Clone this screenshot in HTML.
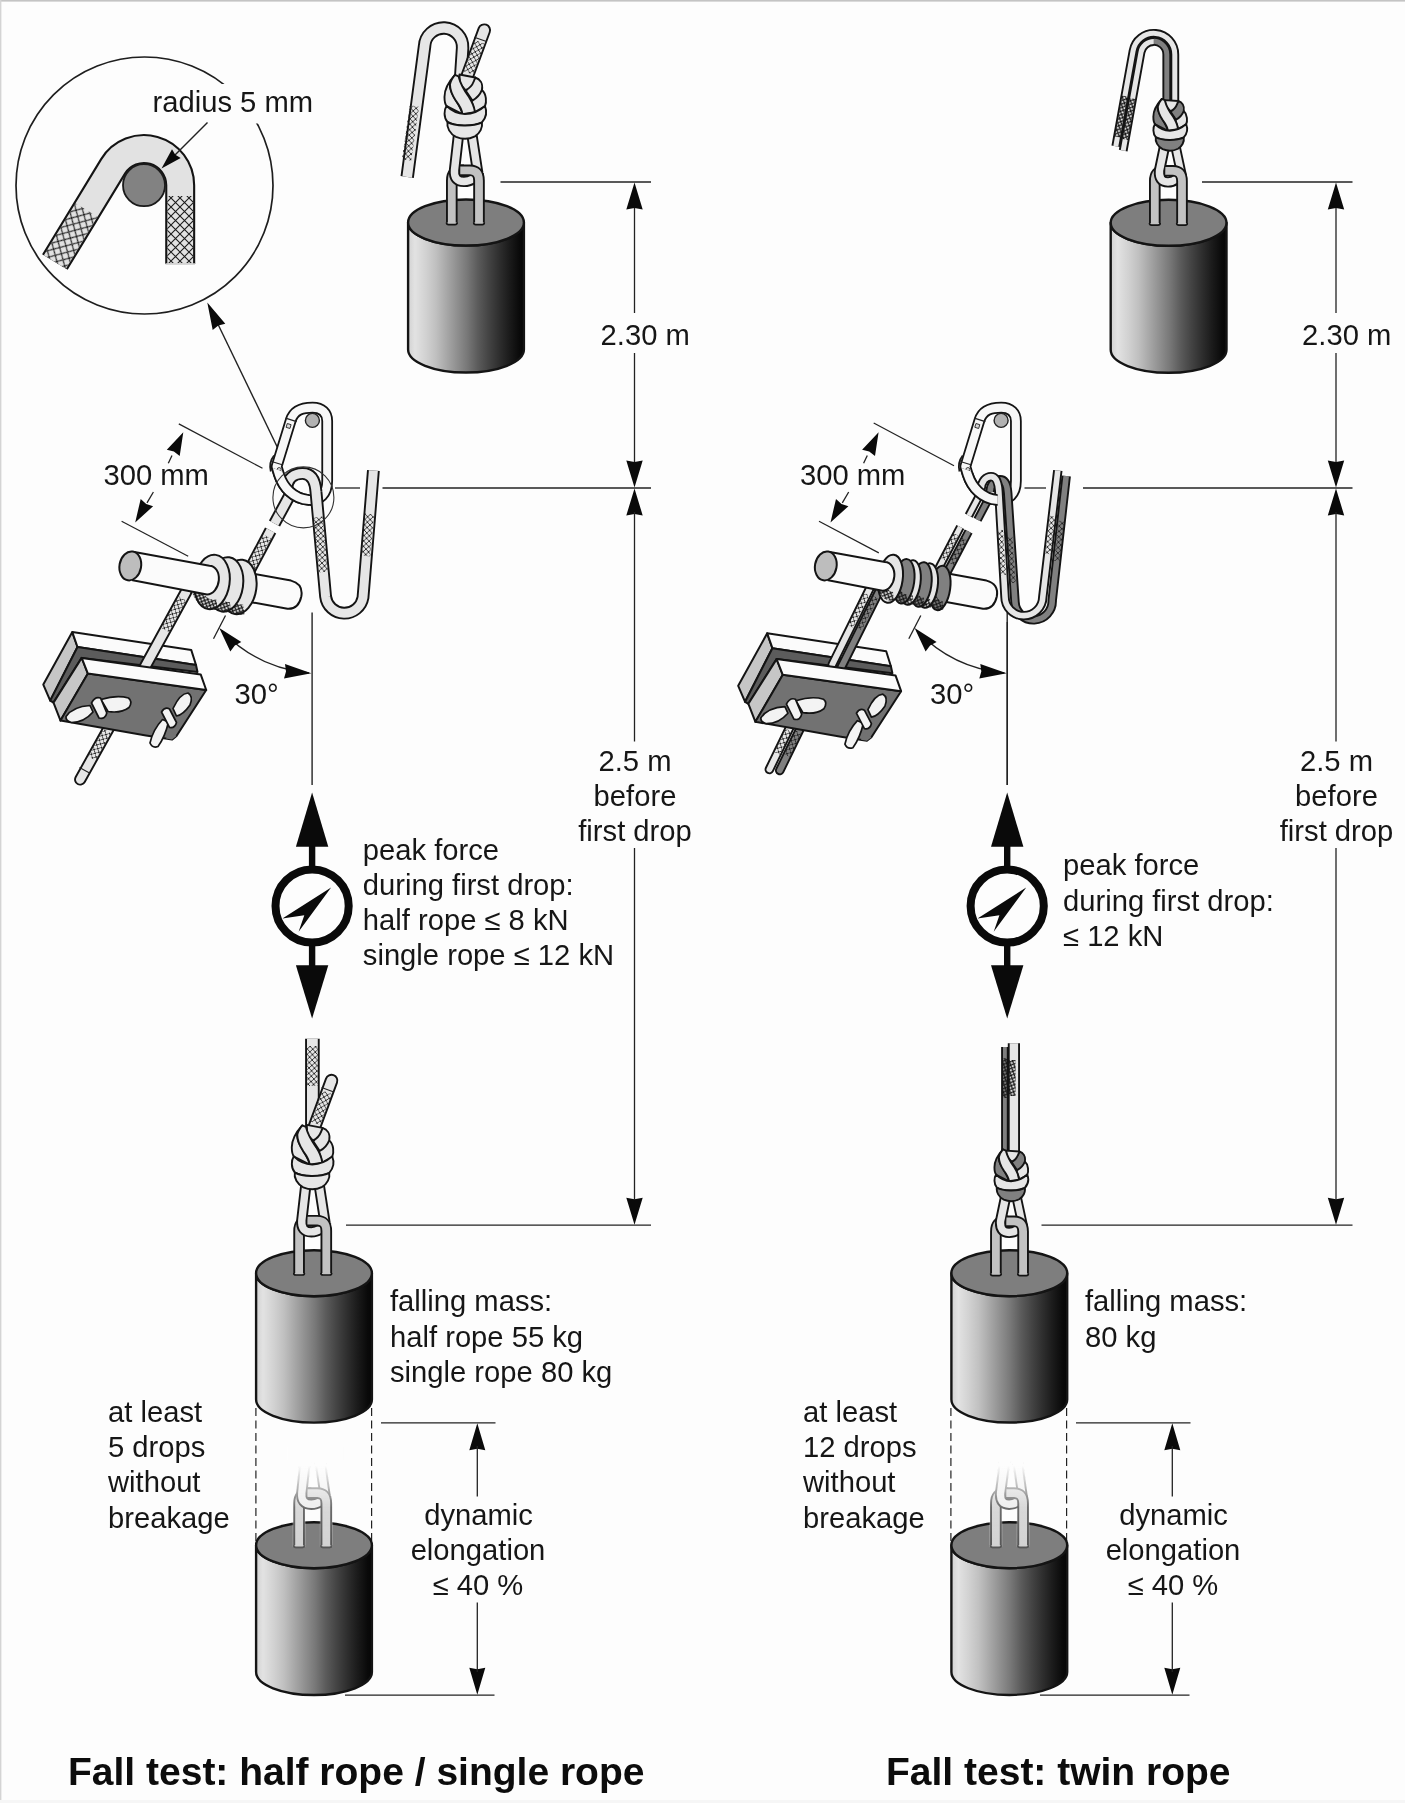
<!DOCTYPE html>
<html lang="en"><head><meta charset="utf-8"><title>Fall test: half rope / single rope, twin rope</title>
<style>html,body{margin:0;padding:0;background:#fdfdfd;overflow:hidden}svg{display:block}</style></head>
<body>
<svg width="1405" height="1803" viewBox="0 0 1405 1803">
<filter id="soft" filterUnits="userSpaceOnUse" x="0" y="0" width="1405" height="1803" color-interpolation-filters="sRGB"><feGaussianBlur stdDeviation="0.45"/></filter>
<g filter="url(#soft)">
<defs>
<linearGradient id="cyl" x1="0" y1="0" x2="1" y2="0">
<stop offset="0" stop-color="#d2d2d2"/><stop offset="0.06" stop-color="#e2e2e2"/><stop offset="0.15" stop-color="#d2d2d2"/>
<stop offset="0.24" stop-color="#c0c0c0"/><stop offset="0.33" stop-color="#a8a8a8"/><stop offset="0.42" stop-color="#909090"/>
<stop offset="0.51" stop-color="#787878"/><stop offset="0.60" stop-color="#5c5c5c"/><stop offset="0.69" stop-color="#454545"/>
<stop offset="0.78" stop-color="#303030"/><stop offset="0.87" stop-color="#1c1c1c"/><stop offset="0.96" stop-color="#0a0a0a"/><stop offset="1" stop-color="#060606"/>
</linearGradient>
<linearGradient id="fadeUp" x1="0" y1="1" x2="0" y2="0" gradientUnits="objectBoundingBox">
<stop offset="0" stop-color="#fdfdfd" stop-opacity="0"/><stop offset="0.35" stop-color="#fdfdfd" stop-opacity="0.3"/><stop offset="0.7" stop-color="#fdfdfd" stop-opacity="0.72"/><stop offset="1" stop-color="#fdfdfd" stop-opacity="1"/>
</linearGradient>
<pattern id="hx" width="5.4" height="5.4" patternUnits="userSpaceOnUse" patternTransform="rotate(15)">
<path d="M0,0 L5.4,5.4 M5.4,0 L0,5.4" stroke="#1c1c1c" stroke-width="0.85" fill="none"/></pattern>
<pattern id="hx30" width="5.4" height="5.4" patternUnits="userSpaceOnUse" patternTransform="rotate(30)">
<path d="M0,0 L5.4,5.4 M5.4,0 L0,5.4" stroke="#1c1c1c" stroke-width="0.85" fill="none"/></pattern>
<pattern id="hx0" width="5.4" height="5.4" patternUnits="userSpaceOnUse" patternTransform="rotate(3)">
<path d="M0,0 L5.4,5.4 M5.4,0 L0,5.4" stroke="#1c1c1c" stroke-width="0.85" fill="none"/></pattern>
<pattern id="hxd" width="4.6" height="4.6" patternUnits="userSpaceOnUse" patternTransform="rotate(25)">
<path d="M0,0 L4.6,4.6 M4.6,0 L0,4.6" stroke="#161616" stroke-width="1.15" fill="none"/></pattern>
<pattern id="hxbig" width="9" height="9" patternUnits="userSpaceOnUse" patternTransform="rotate(30)">
<path d="M0,0 L9,9 M9,0 L0,9" stroke="#1c1c1c" stroke-width="1.1" fill="none"/></pattern>
<pattern id="hxbig0" width="9" height="9" patternUnits="userSpaceOnUse" patternTransform="rotate(0)">
<path d="M0,0 L9,9 M9,0 L0,9" stroke="#1c1c1c" stroke-width="1.1" fill="none"/></pattern>
</defs>
<rect x="0" y="0" width="1405" height="1803" fill="#fdfdfd"/>
<rect x="0" y="0" width="1405" height="1.6" fill="#c4c4c4"/>
<rect x="0" y="0" width="1.4" height="1803" fill="#d4d4d4"/>
<rect x="0" y="1800" width="1405" height="3" fill="#f6f6f6"/>
<line x1="500.5" y1="182" x2="651" y2="182" stroke="#222" stroke-width="1.3" />
<line x1="335" y1="488" x2="360" y2="488" stroke="#222" stroke-width="1.3" />
<line x1="382.5" y1="488" x2="651" y2="488" stroke="#222" stroke-width="1.3" />
<line x1="346" y1="1225.2" x2="651" y2="1225.2" stroke="#222" stroke-width="1.3" />
<line x1="634.5" y1="206" x2="634.5" y2="313" stroke="#222" stroke-width="1.3" />
<line x1="634.5" y1="353" x2="634.5" y2="464" stroke="#222" stroke-width="1.3" />
<polygon points="634.5,182.5 642.7,209.5 634.5,208.0 626.3,209.5" fill="#0a0a0a"/>
<polygon points="634.5,487.5 626.3,460.5 634.5,462.0 642.7,460.5" fill="#0a0a0a"/>
<text x="600.6" y="344.6" font-size="29.2" text-anchor="start" font-weight="normal" fill="#161616" font-family="'Liberation Sans', sans-serif">2.30 m</text>
<polygon points="634.5,488.5 642.7,515.5 634.5,514.0 626.3,515.5" fill="#0a0a0a"/>
<polygon points="634.5,1224.8 626.3,1197.8 634.5,1199.3 642.7,1197.8" fill="#0a0a0a"/>
<line x1="634.5" y1="512" x2="634.5" y2="741.5" stroke="#222" stroke-width="1.3" />
<line x1="634.5" y1="848" x2="634.5" y2="1200" stroke="#222" stroke-width="1.3" />
<text x="635.0" y="771" font-size="29.2" text-anchor="middle" font-weight="normal" fill="#161616" font-family="'Liberation Sans', sans-serif">2.5 m</text>
<text x="635.0" y="806.3" font-size="29.2" text-anchor="middle" font-weight="normal" fill="#161616" font-family="'Liberation Sans', sans-serif">before</text>
<text x="635.0" y="841.3" font-size="29.2" text-anchor="middle" font-weight="normal" fill="#161616" font-family="'Liberation Sans', sans-serif">first drop</text>
<line x1="381" y1="1422.8" x2="495.5" y2="1422.8" stroke="#222" stroke-width="1.3" />
<line x1="345" y1="1695.2" x2="494.5" y2="1695.2" stroke="#222" stroke-width="1.3" />
<polygon points="477.3,1423.2 485.3,1450.2 477.3,1448.7 469.3,1450.2" fill="#0a0a0a"/>
<polygon points="477.3,1694.8 469.3,1667.8 477.3,1669.3 485.3,1667.8" fill="#0a0a0a"/>
<line x1="477.3" y1="1446" x2="477.3" y2="1496.5" stroke="#222" stroke-width="1.3" />
<line x1="477.3" y1="1602.5" x2="477.3" y2="1672" stroke="#222" stroke-width="1.3" />
<text x="478.5" y="1524.5" font-size="29.2" text-anchor="middle" font-weight="normal" fill="#161616" font-family="'Liberation Sans', sans-serif">dynamic</text>
<text x="478" y="1559.8" font-size="29.2" text-anchor="middle" font-weight="normal" fill="#161616" font-family="'Liberation Sans', sans-serif">elongation</text>
<text x="478" y="1594.8" font-size="29.2" text-anchor="middle" font-weight="normal" fill="#161616" font-family="'Liberation Sans', sans-serif">≤ 40 %</text>
<line x1="255.9" y1="1408" x2="255.9" y2="1541" stroke="#222" stroke-width="1.2" stroke-dasharray="8 4.5"/>
<line x1="371.6" y1="1408" x2="371.6" y2="1541" stroke="#222" stroke-width="1.2" stroke-dasharray="8 4.5"/>
<line x1="1202.0" y1="182" x2="1352.5" y2="182" stroke="#222" stroke-width="1.3" />
<line x1="1024.5" y1="488" x2="1046" y2="488" stroke="#222" stroke-width="1.3" />
<line x1="1083" y1="488" x2="1352.5" y2="488" stroke="#222" stroke-width="1.3" />
<line x1="1041.5" y1="1225.2" x2="1352.5" y2="1225.2" stroke="#222" stroke-width="1.3" />
<line x1="1336.0" y1="206" x2="1336.0" y2="313" stroke="#222" stroke-width="1.3" />
<line x1="1336.0" y1="353" x2="1336.0" y2="464" stroke="#222" stroke-width="1.3" />
<polygon points="1336.0,182.5 1344.2,209.5 1336.0,208.0 1327.8,209.5" fill="#0a0a0a"/>
<polygon points="1336.0,487.5 1327.8,460.5 1336.0,462.0 1344.2,460.5" fill="#0a0a0a"/>
<text x="1302.1" y="344.6" font-size="29.2" text-anchor="start" font-weight="normal" fill="#161616" font-family="'Liberation Sans', sans-serif">2.30 m</text>
<polygon points="1336.0,488.5 1344.2,515.5 1336.0,514.0 1327.8,515.5" fill="#0a0a0a"/>
<polygon points="1336.0,1224.8 1327.8,1197.8 1336.0,1199.3 1344.2,1197.8" fill="#0a0a0a"/>
<line x1="1336.0" y1="512" x2="1336.0" y2="741.5" stroke="#222" stroke-width="1.3" />
<line x1="1336.0" y1="848" x2="1336.0" y2="1200" stroke="#222" stroke-width="1.3" />
<text x="1336.5" y="771" font-size="29.2" text-anchor="middle" font-weight="normal" fill="#161616" font-family="'Liberation Sans', sans-serif">2.5 m</text>
<text x="1336.5" y="806.3" font-size="29.2" text-anchor="middle" font-weight="normal" fill="#161616" font-family="'Liberation Sans', sans-serif">before</text>
<text x="1336.5" y="841.3" font-size="29.2" text-anchor="middle" font-weight="normal" fill="#161616" font-family="'Liberation Sans', sans-serif">first drop</text>
<line x1="1076" y1="1422.8" x2="1190.5" y2="1422.8" stroke="#222" stroke-width="1.3" />
<line x1="1040" y1="1695.2" x2="1189.5" y2="1695.2" stroke="#222" stroke-width="1.3" />
<polygon points="1172.3,1423.2 1180.3,1450.2 1172.3,1448.7 1164.3,1450.2" fill="#0a0a0a"/>
<polygon points="1172.3,1694.8 1164.3,1667.8 1172.3,1669.3 1180.3,1667.8" fill="#0a0a0a"/>
<line x1="1172.3" y1="1446" x2="1172.3" y2="1496.5" stroke="#222" stroke-width="1.3" />
<line x1="1172.3" y1="1602.5" x2="1172.3" y2="1672" stroke="#222" stroke-width="1.3" />
<text x="1173.5" y="1524.5" font-size="29.2" text-anchor="middle" font-weight="normal" fill="#161616" font-family="'Liberation Sans', sans-serif">dynamic</text>
<text x="1173" y="1559.8" font-size="29.2" text-anchor="middle" font-weight="normal" fill="#161616" font-family="'Liberation Sans', sans-serif">elongation</text>
<text x="1173" y="1594.8" font-size="29.2" text-anchor="middle" font-weight="normal" fill="#161616" font-family="'Liberation Sans', sans-serif">≤ 40 %</text>
<line x1="950.9" y1="1408" x2="950.9" y2="1541" stroke="#222" stroke-width="1.2" stroke-dasharray="8 4.5"/>
<line x1="1066.6" y1="1408" x2="1066.6" y2="1541" stroke="#222" stroke-width="1.2" stroke-dasharray="8 4.5"/>
<text x="362.8" y="860" font-size="29.2" text-anchor="start" font-weight="normal" fill="#161616" font-family="'Liberation Sans', sans-serif">peak force</text>
<text x="362.8" y="895.2" font-size="29.2" text-anchor="start" font-weight="normal" fill="#161616" font-family="'Liberation Sans', sans-serif">during first drop:</text>
<text x="362.8" y="930.3" font-size="29.2" text-anchor="start" font-weight="normal" fill="#161616" font-family="'Liberation Sans', sans-serif">half rope ≤ 8 kN</text>
<text x="362.8" y="965.4" font-size="29.2" text-anchor="start" font-weight="normal" fill="#161616" font-family="'Liberation Sans', sans-serif">single rope ≤ 12 kN</text>
<text x="390" y="1311.2" font-size="29.2" text-anchor="start" font-weight="normal" fill="#161616" font-family="'Liberation Sans', sans-serif">falling mass:</text>
<text x="390" y="1346.5" font-size="29.2" text-anchor="start" font-weight="normal" fill="#161616" font-family="'Liberation Sans', sans-serif">half rope 55 kg</text>
<text x="390" y="1381.7" font-size="29.2" text-anchor="start" font-weight="normal" fill="#161616" font-family="'Liberation Sans', sans-serif">single rope 80 kg</text>
<text x="108" y="1422" font-size="29.2" text-anchor="start" font-weight="normal" fill="#161616" font-family="'Liberation Sans', sans-serif">at least</text>
<text x="108" y="1457.2" font-size="29.2" text-anchor="start" font-weight="normal" fill="#161616" font-family="'Liberation Sans', sans-serif">5 drops</text>
<text x="108" y="1492.4" font-size="29.2" text-anchor="start" font-weight="normal" fill="#161616" font-family="'Liberation Sans', sans-serif">without</text>
<text x="108" y="1527.6" font-size="29.2" text-anchor="start" font-weight="normal" fill="#161616" font-family="'Liberation Sans', sans-serif">breakage</text>
<text x="68" y="1785.3" font-size="39" text-anchor="start" font-weight="bold" fill="#0c0c0c" font-family="'Liberation Sans', sans-serif">Fall test: half rope / single rope</text>
<text x="103.5" y="484.6" font-size="29.2" text-anchor="start" font-weight="normal" fill="#161616" font-family="'Liberation Sans', sans-serif">300 mm</text>
<text x="234.5" y="704" font-size="29.2" text-anchor="start" font-weight="normal" fill="#161616" font-family="'Liberation Sans', sans-serif">30°</text>
<text x="1063" y="875" font-size="29.2" text-anchor="start" font-weight="normal" fill="#161616" font-family="'Liberation Sans', sans-serif">peak force</text>
<text x="1063" y="910.5" font-size="29.2" text-anchor="start" font-weight="normal" fill="#161616" font-family="'Liberation Sans', sans-serif">during first drop:</text>
<text x="1063" y="946" font-size="29.2" text-anchor="start" font-weight="normal" fill="#161616" font-family="'Liberation Sans', sans-serif">≤ 12 kN</text>
<text x="1085" y="1311.2" font-size="29.2" text-anchor="start" font-weight="normal" fill="#161616" font-family="'Liberation Sans', sans-serif">falling mass:</text>
<text x="1085" y="1346.5" font-size="29.2" text-anchor="start" font-weight="normal" fill="#161616" font-family="'Liberation Sans', sans-serif">80 kg</text>
<text x="803" y="1422" font-size="29.2" text-anchor="start" font-weight="normal" fill="#161616" font-family="'Liberation Sans', sans-serif">at least</text>
<text x="803" y="1457.2" font-size="29.2" text-anchor="start" font-weight="normal" fill="#161616" font-family="'Liberation Sans', sans-serif">12 drops</text>
<text x="803" y="1492.4" font-size="29.2" text-anchor="start" font-weight="normal" fill="#161616" font-family="'Liberation Sans', sans-serif">without</text>
<text x="803" y="1527.6" font-size="29.2" text-anchor="start" font-weight="normal" fill="#161616" font-family="'Liberation Sans', sans-serif">breakage</text>
<text x="886" y="1785.3" font-size="39" text-anchor="start" font-weight="bold" fill="#0c0c0c" font-family="'Liberation Sans', sans-serif">Fall test: twin rope</text>
<text x="800" y="484.6" font-size="29.2" text-anchor="start" font-weight="normal" fill="#161616" font-family="'Liberation Sans', sans-serif">300 mm</text>
<text x="930" y="704" font-size="29.2" text-anchor="start" font-weight="normal" fill="#161616" font-family="'Liberation Sans', sans-serif">30°</text>
<g transform="translate(408.1,0)"><path transform="translate(-408.1,0)" d="M408.1,222.5 L408.1,349.5 A57.9,23.0 0 0 0 523.9,349.5 L523.9,222.5 A57.9,23.0 0 0 1 408.1,222.5 Z" fill="url(#cyl)" stroke="#141414" stroke-width="2.4" stroke-linejoin="round"/></g>
<ellipse cx="466" cy="222.5" rx="57.9" ry="23.0" fill="#7e7e7e" stroke="#141414" stroke-width="2.4"/>
<g transform="translate(256.1,0)"><path transform="translate(-256.1,0)" d="M256.1,1273.2 L256.1,1399.6 A57.9,23.0 0 0 0 371.9,1399.6 L371.9,1273.2 A57.9,23.0 0 0 1 256.1,1273.2 Z" fill="url(#cyl)" stroke="#141414" stroke-width="2.4" stroke-linejoin="round"/></g>
<ellipse cx="314" cy="1273.2" rx="57.9" ry="23.0" fill="#7e7e7e" stroke="#141414" stroke-width="2.4"/>
<g transform="translate(256.1,0)"><path transform="translate(-256.1,0)" d="M256.1,1545.2 L256.1,1672 A57.9,23.0 0 0 0 371.9,1672 L371.9,1545.2 A57.9,23.0 0 0 1 256.1,1545.2 Z" fill="url(#cyl)" stroke="#141414" stroke-width="2.4" stroke-linejoin="round"/></g>
<ellipse cx="314" cy="1545.2" rx="57.9" ry="23.0" fill="#7e7e7e" stroke="#141414" stroke-width="2.4"/>
<g transform="translate(1110.6999999999998,0)"><path transform="translate(-1110.6999999999998,0)" d="M1110.6999999999998,222.8 L1110.6999999999998,349.8 A57.9,23.0 0 0 0 1226.5,349.8 L1226.5,222.8 A57.9,23.0 0 0 1 1110.6999999999998,222.8 Z" fill="url(#cyl)" stroke="#141414" stroke-width="2.4" stroke-linejoin="round"/></g>
<ellipse cx="1168.6" cy="222.8" rx="57.9" ry="23.0" fill="#7e7e7e" stroke="#141414" stroke-width="2.4"/>
<g transform="translate(951.4,0)"><path transform="translate(-951.4,0)" d="M951.4,1273.2 L951.4,1399.6 A57.9,23.0 0 0 0 1067.2,1399.6 L1067.2,1273.2 A57.9,23.0 0 0 1 951.4,1273.2 Z" fill="url(#cyl)" stroke="#141414" stroke-width="2.4" stroke-linejoin="round"/></g>
<ellipse cx="1009.3" cy="1273.2" rx="57.9" ry="23.0" fill="#7e7e7e" stroke="#141414" stroke-width="2.4"/>
<g transform="translate(951.4,0)"><path transform="translate(-951.4,0)" d="M951.4,1545.2 L951.4,1672 A57.9,23.0 0 0 0 1067.2,1672 L1067.2,1545.2 A57.9,23.0 0 0 1 951.4,1545.2 Z" fill="url(#cyl)" stroke="#141414" stroke-width="2.4" stroke-linejoin="round"/></g>
<ellipse cx="1009.3" cy="1545.2" rx="57.9" ry="23.0" fill="#7e7e7e" stroke="#141414" stroke-width="2.4"/>
<circle cx="144.5" cy="185.5" r="128.5" fill="none" stroke="#1e1e1e" stroke-width="1.7"/>
<rect x="149" y="84" width="167" height="39.5" fill="#fdfdfd"/>
<path d="M54.9,262 L113.1,166.4 A36.2,36.2 0 0 1 180.2,185.2 L180.2,264" fill="none" stroke="#141414" stroke-width="30" stroke-linecap="butt" stroke-linejoin="round" />
<path d="M54.9,262 L113.1,166.4 A36.2,36.2 0 0 1 180.2,185.2 L180.2,264" fill="none" stroke="#e2e2e2" stroke-width="25.80" stroke-linecap="butt" stroke-linejoin="round" />
<path d="M54.9,262 L86.5,210" fill="none" stroke="url(#hxbig)" stroke-width="25.8" stroke-linecap="butt"/>
<path d="M180.2,263 L180.2,196" fill="none" stroke="url(#hxbig0)" stroke-width="25.8" stroke-linecap="butt"/>
<path d="M165.5,264 H195" stroke="#cfcfcf" stroke-width="1.6"/>
<circle cx="144" cy="185.2" r="21" fill="#828282" stroke="#1a1a1a" stroke-width="1.8"/>
<line x1="207.5" y1="122.5" x2="172" y2="158" stroke="#222" stroke-width="1.4" />
<polygon points="161.5,168.5 172.0,149.3 175.3,154.7 180.7,158.0" fill="#0a0a0a"/>
<text x="152.5" y="111.7" font-size="29.2" text-anchor="start" font-weight="normal" fill="#161616" font-family="'Liberation Sans', sans-serif">radius 5 mm</text>
<line x1="283.5" y1="460" x2="214" y2="316" stroke="#222" stroke-width="1.4" />
<polygon points="207.3,302.5 225.3,323.8 218.3,325.5 212.7,329.9" fill="#0a0a0a"/>
<line x1="312.1" y1="612.5" x2="312.1" y2="785" stroke="#222" stroke-width="1.4" />
<circle cx="312.1" cy="906" r="36.6" fill="#fdfdfd" stroke="#0a0a0a" stroke-width="8"/>
<rect x="308.90000000000003" y="845" width="6.4" height="21.5" fill="#0a0a0a"/>
<rect x="308.90000000000003" y="945.5" width="6.4" height="21" fill="#0a0a0a"/>
<polygon points="312.1,792.5 328.3,846.8 295.90000000000003,846.8" fill="#0a0a0a"/>
<polygon points="312.1,1018.6 328.3,965.2 295.90000000000003,965.2" fill="#0a0a0a"/>
<polygon points="331.1,887.5 282.40000000000003,918.4 304.3,915.3 298.6,931.8" fill="#0a0a0a"/>
<path d="M407.2,177 L424.6,46 A19,19 0 0 1 462.6,48 L460.5,80" fill="none" stroke="#141414" stroke-width="13.4" stroke-linecap="butt" stroke-linejoin="round" />
<path d="M407.2,177 L424.6,46 A19,19 0 0 1 462.6,48 L460.5,80" fill="none" stroke="#e6e6e6" stroke-width="9.60" stroke-linecap="butt" stroke-linejoin="round" />
<path d="M414.4,106 L406.6,160" fill="none" stroke="url(#hx0)" stroke-width="9.4" stroke-linecap="butt"/>
<g transform="translate(0,0)">
<path d="M471.8,134 L477.8,173" fill="none" stroke="#141414" stroke-width="11.2" stroke-linecap="butt" stroke-linejoin="round" />
<path d="M471.8,134 L477.8,173" fill="none" stroke="#e6e6e6" stroke-width="7.40" stroke-linecap="butt" stroke-linejoin="round" />
<path d="M451.8,224.0 V180.5 Q451.8,170.3 460.8,170.3 H464" fill="none" stroke="#141414" stroke-width="11.6" stroke-linecap="butt" stroke-linejoin="round" />
<path d="M451.8,224.0 V180.5 Q451.8,170.3 460.8,170.3 H464" fill="none" stroke="#c2c2c2" stroke-width="7.80" stroke-linecap="butt" stroke-linejoin="round" />
<path d="M458.6,134 L454.5,170 Q453.5,181.5 464,181.5 Q474,181.5 479,171" fill="none" stroke="#141414" stroke-width="11.2" stroke-linecap="butt" stroke-linejoin="round" />
<path d="M458.6,134 L454.5,170 Q453.5,181.5 464,181.5 Q474,181.5 479,171" fill="none" stroke="#e6e6e6" stroke-width="7.40" stroke-linecap="butt" stroke-linejoin="round" />
<path d="M460.4,170.3 H470.0 Q479.0,170.3 479.0,180.5 V224.0" fill="none" stroke="#141414" stroke-width="11.6" stroke-linecap="butt" stroke-linejoin="round" />
<path d="M460.4,170.3 H470.0 Q479.0,170.3 479.0,180.5 V224.0" fill="none" stroke="#c2c2c2" stroke-width="7.80" stroke-linecap="butt" stroke-linejoin="round" />
<path d="M446.5,222.5 Q446.5,224.6 448.6,224.6 H455.0 Q457.1,224.6 457.1,222.5" fill="#c2c2c2" stroke="#141414" stroke-width="1.7"/>
<path d="M473.7,222.5 Q473.7,224.6 475.8,224.6 H482.2 Q484.3,224.6 484.3,222.5" fill="#c2c2c2" stroke="#141414" stroke-width="1.7"/>
</g>
<g transform="translate(0,0)">
<path d="M463.6,86 L484.2,30.2" fill="none" stroke="#141414" stroke-width="13.6" stroke-linecap="round" stroke-linejoin="round" />
<path d="M463.6,86 L484.2,30.2" fill="none" stroke="#e6e6e6" stroke-width="9.80" stroke-linecap="round" stroke-linejoin="round" />
<path d="M468.4,73 L479.9,42" fill="none" stroke="url(#hx)" stroke-width="9.8" stroke-linecap="butt"/>
<path d="M474.3,37.2 L486.5,41.6" stroke="#222" stroke-width="1.1" fill="none"/>
</g>
<g transform="translate(430,60) scale(0.04993)" stroke="#141414" stroke-width="38.1" stroke-linejoin="round">
<path d="M1040,600 C1135,680 1135,850 1100,930 L900,1045 L830,810 Z" fill="#e6e6e6"/>
<path d="M905,350 C1000,380 1065,470 1040,600 C1000,700 930,770 850,812 L720,620 L880,400 Z" fill="#e6e6e6"/>
<path d="M590,290 L905,350 L880,420 C850,500 790,570 712,602 L600,480 Z" fill="#e6e6e6"/>
<path d="M500,300 C390,420 290,560 290,740 C290,840 300,890 335,925 L650,1085 C640,1000 560,880 480,740 C420,640 390,560 400,490 Z" fill="#e6e6e6"/>
<path d="M500,300 C450,360 410,430 400,490 C400,600 440,700 520,820 C580,900 640,1000 650,1085 L900,1045 C890,950 850,850 780,740 C700,630 620,520 572,330 Z" fill="#e6e6e6"/>
<path d="M330,920 C280,1000 270,1150 350,1240 C500,1330 850,1340 1040,1250 C1130,1150 1140,1020 1100,920 C1000,1010 850,1080 700,1085 C560,1080 420,1010 330,920 Z" fill="#e6e6e6"/>
<path d="M350,1245 C330,1350 400,1480 520,1540 C640,1590 780,1590 900,1530 C1000,1470 1060,1350 1040,1255 C850,1340 500,1330 350,1245 Z" fill="#e6e6e6"/>
</g>
<path d="M312.4,1038.7 L312.4,1134" fill="none" stroke="#141414" stroke-width="14.6" stroke-linecap="butt" stroke-linejoin="round" />
<path d="M312.4,1038.7 L312.4,1134" fill="none" stroke="#e6e6e6" stroke-width="10.80" stroke-linecap="butt" stroke-linejoin="round" />
<path d="M312.4,1046 L312.4,1086" fill="none" stroke="url(#hx0)" stroke-width="10.6" stroke-linecap="butt"/>
<g transform="translate(-152.7,1050.4)">
<path d="M471.8,134 L477.8,173" fill="none" stroke="#141414" stroke-width="11.2" stroke-linecap="butt" stroke-linejoin="round" />
<path d="M471.8,134 L477.8,173" fill="none" stroke="#e6e6e6" stroke-width="7.40" stroke-linecap="butt" stroke-linejoin="round" />
<path d="M451.8,224.0 V180.5 Q451.8,170.3 460.8,170.3 H464" fill="none" stroke="#141414" stroke-width="11.6" stroke-linecap="butt" stroke-linejoin="round" />
<path d="M451.8,224.0 V180.5 Q451.8,170.3 460.8,170.3 H464" fill="none" stroke="#c2c2c2" stroke-width="7.80" stroke-linecap="butt" stroke-linejoin="round" />
<path d="M458.6,134 L454.5,170 Q453.5,181.5 464,181.5 Q474,181.5 479,171" fill="none" stroke="#141414" stroke-width="11.2" stroke-linecap="butt" stroke-linejoin="round" />
<path d="M458.6,134 L454.5,170 Q453.5,181.5 464,181.5 Q474,181.5 479,171" fill="none" stroke="#e6e6e6" stroke-width="7.40" stroke-linecap="butt" stroke-linejoin="round" />
<path d="M460.4,170.3 H470.0 Q479.0,170.3 479.0,180.5 V224.0" fill="none" stroke="#141414" stroke-width="11.6" stroke-linecap="butt" stroke-linejoin="round" />
<path d="M460.4,170.3 H470.0 Q479.0,170.3 479.0,180.5 V224.0" fill="none" stroke="#c2c2c2" stroke-width="7.80" stroke-linecap="butt" stroke-linejoin="round" />
<path d="M446.5,222.5 Q446.5,224.6 448.6,224.6 H455.0 Q457.1,224.6 457.1,222.5" fill="#c2c2c2" stroke="#141414" stroke-width="1.7"/>
<path d="M473.7,222.5 Q473.7,224.6 475.8,224.6 H482.2 Q484.3,224.6 484.3,222.5" fill="#c2c2c2" stroke="#141414" stroke-width="1.7"/>
</g>
<g transform="translate(-152.7,1050.4)">
<path d="M463.6,86 L484.2,30.2" fill="none" stroke="#141414" stroke-width="13.6" stroke-linecap="round" stroke-linejoin="round" />
<path d="M463.6,86 L484.2,30.2" fill="none" stroke="#e6e6e6" stroke-width="9.80" stroke-linecap="round" stroke-linejoin="round" />
<path d="M468.4,73 L479.9,42" fill="none" stroke="url(#hx)" stroke-width="9.8" stroke-linecap="butt"/>
<path d="M474.3,37.2 L486.5,41.6" stroke="#222" stroke-width="1.1" fill="none"/>
</g>
<g transform="translate(277.3,1110.4) scale(0.04993)" stroke="#141414" stroke-width="38.1" stroke-linejoin="round">
<path d="M1040,600 C1135,680 1135,850 1100,930 L900,1045 L830,810 Z" fill="#e6e6e6"/>
<path d="M905,350 C1000,380 1065,470 1040,600 C1000,700 930,770 850,812 L720,620 L880,400 Z" fill="#e6e6e6"/>
<path d="M590,290 L905,350 L880,420 C850,500 790,570 712,602 L600,480 Z" fill="#e6e6e6"/>
<path d="M500,300 C390,420 290,560 290,740 C290,840 300,890 335,925 L650,1085 C640,1000 560,880 480,740 C420,640 390,560 400,490 Z" fill="#e6e6e6"/>
<path d="M500,300 C450,360 410,430 400,490 C400,600 440,700 520,820 C580,900 640,1000 650,1085 L900,1045 C890,950 850,850 780,740 C700,630 620,520 572,330 Z" fill="#e6e6e6"/>
<path d="M330,920 C280,1000 270,1150 350,1240 C500,1330 850,1340 1040,1250 C1130,1150 1140,1020 1100,920 C1000,1010 850,1080 700,1085 C560,1080 420,1010 330,920 Z" fill="#e6e6e6"/>
<path d="M350,1245 C330,1350 400,1480 520,1540 C640,1590 780,1590 900,1530 C1000,1470 1060,1350 1040,1255 C850,1340 500,1330 350,1245 Z" fill="#e6e6e6"/>
</g>
<path d="M110,726 L80.2,779.5" fill="none" stroke="#141414" stroke-width="12.2" stroke-linecap="round" stroke-linejoin="round" />
<path d="M110,726 L80.2,779.5" fill="none" stroke="#e6e6e6" stroke-width="8.40" stroke-linecap="round" stroke-linejoin="round" />
<path d="M107,731 L92,758.5" fill="none" stroke="url(#hx30)" stroke-width="8.6" stroke-linecap="butt"/>
<path d="M79.5,767.5 L89.5,773" stroke="#222" stroke-width="1.1" fill="none"/>
<g transform="translate(0,0)" stroke="#141414" stroke-width="2" stroke-linejoin="round">
<polygon points="72.3,632.1 77.5,647 50.2,700.6 43.3,684.6" fill="#c6c6c6"/>
<polygon points="72.3,632.1 191.3,650.1 196,665 77.5,647" fill="#fbfbfb"/>
<polygon points="77.5,647 196,665 197.5,672 81.7,657.9 53.5,702.6 50.2,700.6" fill="#5c5c5c"/>
</g>
<path d="M186,592 L145.2,666.5" fill="none" stroke="#141414" stroke-width="12.6" stroke-linecap="round" stroke-linejoin="round" />
<path d="M186,592 L145.2,666.5" fill="none" stroke="#e6e6e6" stroke-width="8.80" stroke-linecap="round" stroke-linejoin="round" />
<path d="M182.5,598.5 L165,630" fill="none" stroke="url(#hx30)" stroke-width="8.8" stroke-linecap="butt"/>
<g transform="translate(0,0)" stroke="#141414" stroke-width="2" stroke-linejoin="round">
<polygon points="81.7,657.9 87.9,673.6 60.5,720.6 53.5,702.6" fill="#c6c6c6"/>
<polygon points="87.9,673.6 206.2,690 176.5,736 172,739.6 146,735.6 60.5,720.6" fill="#727272"/>
<polygon points="81.7,657.9 200.7,674.4 206.2,690 87.9,673.6" fill="#fbfbfb"/>
<polygon points="176.5,736 172,739.6 166,738.6 170,731" fill="#727272" stroke="none"/>
<path d="M66,716.5 Q73,706.5 90,705.5 L93,712 Q84,722.5 71.5,722.5 Q65.5,721 66,716.5 Z" fill="#f3f3f3" stroke-width="1.7"/>
<path d="M101,699.5 Q117,694.5 128.5,698 Q133,701.5 129,707.5 Q121,713.5 108,711.5 Z" fill="#f3f3f3" stroke-width="1.7"/>
<path d="M91.5,703 Q95,696 100.5,698 L106.8,713 Q105.5,719.5 99,718 Z" fill="#f3f3f3" stroke-width="1.7"/>
<path d="M173,708.5 Q180,693.5 188,693 Q193.5,696 190,705 Q183,715 176.5,716 Z" fill="#f3f3f3" stroke-width="1.7"/>
<path d="M168.5,722 Q165,737 158,746.5 Q152.5,748.5 150,743 Q153,729.5 162.5,719.5 Z" fill="#f3f3f3" stroke-width="1.7"/>
<path d="M161.5,712 Q165,706.5 169.5,709 L176.5,722.5 Q175,728.5 169.5,727.5 Z" fill="#f3f3f3" stroke-width="1.7"/>
</g>
<path transform="translate(0,0)" d="M215,566.7 L291,580.6 Q303.5,584 301.3,596.5 Q298.5,609.5 287.5,608.8 L210,594.6 Z" fill="#fbfbfb" stroke="#141414" stroke-width="2" stroke-linejoin="round"/>
<path d="M247,575 L270.6,530.5" fill="none" stroke="#141414" stroke-width="12.6" stroke-linecap="butt" stroke-linejoin="round" />
<path d="M247,575 L270.6,530.5" fill="none" stroke="#e6e6e6" stroke-width="8.80" stroke-linecap="butt" stroke-linejoin="round" />
<path d="M251,567.5 L267.5,536.5" fill="none" stroke="url(#hx30)" stroke-width="8.8" stroke-linecap="butt"/>
<path d="M274.5,523.5 L291,493" fill="none" stroke="#141414" stroke-width="12.6" stroke-linecap="butt" stroke-linejoin="round" />
<path d="M274.5,523.5 L291,493" fill="none" stroke="#e6e6e6" stroke-width="8.80" stroke-linecap="butt" stroke-linejoin="round" />
<ellipse cx="238.8" cy="586.9" rx="17.6" ry="27.4" transform="rotate(8 238.8 586.9)" fill="#e6e6e6" stroke="#141414" stroke-width="2"/>
<path d="M223.3,594.9 Q228.8,611.4 243.8,609.4" fill="none" stroke="url(#hxd)" stroke-width="10"/>
<ellipse cx="225.5" cy="584.4" rx="17.6" ry="27.4" transform="rotate(8 225.5 584.4)" fill="#e6e6e6" stroke="#141414" stroke-width="2"/>
<path d="M210.0,592.4 Q215.5,608.9 230.5,606.9" fill="none" stroke="url(#hxd)" stroke-width="10"/>
<ellipse cx="212" cy="582.0" rx="17.6" ry="27.4" transform="rotate(8 212 582.0)" fill="#e6e6e6" stroke="#141414" stroke-width="2"/>
<path d="M196.5,590.0 Q202,606.5 217,604.5" fill="none" stroke="url(#hxd)" stroke-width="10"/>
<g transform="translate(0,0)" stroke="#141414" stroke-width="2" stroke-linejoin="round">
<path d="M134.4,552 L209.5,565.7 A10.5,14.4 10 0 1 207.0,594.4 L132.7,580.2 Z" fill="#fbfbfb"/>
<ellipse cx="130.3" cy="565.9" rx="10.8" ry="14.6" transform="rotate(10 130.3 565.9)" fill="#bdbdbd"/>
</g>
<g transform="translate(0,0)">
<path d="M327.2,421 L327.2,481 C327.2,494 320,500.5 309,500 C293,499 283,487 279,474.5 L276.6,466.5 L290.7,420.5 C294,409.5 303,407.6 312.5,407.6 C322,407.6 327.2,413 327.2,421 Z" fill="none" stroke="#141414" stroke-width="11.7" stroke-linecap="butt" stroke-linejoin="round" />
<path d="M327.2,421 L327.2,481 C327.2,494 320,500.5 309,500 C293,499 283,487 279,474.5 L276.6,466.5 L290.7,420.5 C294,409.5 303,407.6 312.5,407.6 C322,407.6 327.2,413 327.2,421 Z" fill="none" stroke="#f7f7f7" stroke-width="8.10" stroke-linecap="butt" stroke-linejoin="round" />
<path d="M285.6,418.2 L296.6,421.6" stroke="#222" stroke-width="1.3" fill="none"/>
<path d="M271.6,461.5 L283,465" stroke="#222" stroke-width="1.3" fill="none"/>
<path d="M274,455.5 Q268.5,462.5 270.8,471.5" stroke="#1a1a1a" stroke-width="1.8" fill="none"/>
<rect x="286.6" y="424" width="4" height="4" fill="#d8d8d8" stroke="#333" stroke-width="0.9" transform="rotate(17 288.6 426)"/>
<circle cx="279.2" cy="469.5" r="2" fill="#d0d0d0" stroke="#333" stroke-width="0.9"/>
<circle cx="312.4" cy="420.4" r="7" fill="#b2b2b2" stroke="#222" stroke-width="1.4"/>
</g>
<path d="M286.8,489 C287,477.5 295,473.4 302.5,473.4 C311,473.4 315.2,480 316,492 L325.6,596.5 A18.9,18.9 0 0 0 363,597.5 L373.4,470.5" fill="none" stroke="#141414" stroke-width="12.8" stroke-linecap="butt" stroke-linejoin="round" />
<path d="M286.8,489 C287,477.5 295,473.4 302.5,473.4 C311,473.4 315.2,480 316,492 L325.6,596.5 A18.9,18.9 0 0 0 363,597.5 L373.4,470.5" fill="none" stroke="#e6e6e6" stroke-width="9.00" stroke-linecap="butt" stroke-linejoin="round" />
<path d="M318.2,517 L323.4,572" fill="none" stroke="url(#hx0)" stroke-width="9" stroke-linecap="butt"/>
<path d="M369.4,514 L365.8,556" fill="none" stroke="url(#hx0)" stroke-width="9" stroke-linecap="butt"/>
<clipPath id="cb1"><polygon points="265,465 300,478 309,492 309,510 270,510"/></clipPath>
<g clip-path="url(#cb1)">
<path d="M276.6,466.5 L279,474.5 C283,487 293,499 309,500 C320,500.5 327.2,494 327.2,481" fill="none" stroke="#141414" stroke-width="11.7" stroke-linecap="butt" stroke-linejoin="round" />
<path d="M276.6,466.5 L279,474.5 C283,487 293,499 309,500 C320,500.5 327.2,494 327.2,481" fill="none" stroke="#f7f7f7" stroke-width="8.10" stroke-linecap="butt" stroke-linejoin="round" />
</g>
<circle cx="303.4" cy="497.4" r="30.5" fill="none" stroke="#333" stroke-width="1.1"/>
<line x1="178.8" y1="423.9" x2="262.5" y2="468.3" stroke="#222" stroke-width="1.2" />
<line x1="121.6" y1="521.3" x2="188.2" y2="556.3" stroke="#222" stroke-width="1.2" />
<polygon points="183.3,432.3 179.7,456.1 173.9,451.6 166.8,449.8" fill="#0a0a0a"/>
<line x1="172" y1="455.5" x2="168.3" y2="463.2" stroke="#222" stroke-width="1.3" />
<polygon points="135.2,522.4 140.7,498.9 146.2,503.9 153.1,506.3" fill="#0a0a0a"/>
<line x1="153.4" y1="492" x2="147" y2="502.8" stroke="#222" stroke-width="1.3" />
<line x1="225.5" y1="615.5" x2="213.5" y2="638.8" stroke="#222" stroke-width="1.3" />
<path d="M221.5,630.5 Q257,668 309,673" fill="none" stroke="#222" stroke-width="1.3"/>
<polygon points="219.3,628.0 241.3,641.9 234.8,645.6 230.3,651.6" fill="#0a0a0a"/>
<polygon points="311.4,673.2 284.0,678.6 286.0,671.4 285.0,664.0" fill="#0a0a0a"/>
<g transform="translate(-152.7,1322.8)">
<path d="M471.8,131 L477.8,173" fill="none" stroke="#141414" stroke-width="11.2" stroke-linecap="butt" stroke-linejoin="round" />
<path d="M471.8,131 L477.8,173" fill="none" stroke="#e6e6e6" stroke-width="7.40" stroke-linecap="butt" stroke-linejoin="round" />
<path d="M451.8,224.0 V180.5 Q451.8,170.3 460.8,170.3 H464" fill="none" stroke="#141414" stroke-width="11.6" stroke-linecap="butt" stroke-linejoin="round" />
<path d="M451.8,224.0 V180.5 Q451.8,170.3 460.8,170.3 H464" fill="none" stroke="#c2c2c2" stroke-width="7.80" stroke-linecap="butt" stroke-linejoin="round" />
<path d="M458.6,131 L454.5,170 Q453.5,181.5 464,181.5 Q474,181.5 479,171" fill="none" stroke="#141414" stroke-width="11.2" stroke-linecap="butt" stroke-linejoin="round" />
<path d="M458.6,131 L454.5,170 Q453.5,181.5 464,181.5 Q474,181.5 479,171" fill="none" stroke="#e6e6e6" stroke-width="7.40" stroke-linecap="butt" stroke-linejoin="round" />
<path d="M460.4,170.3 H470.0 Q479.0,170.3 479.0,180.5 V224.0" fill="none" stroke="#141414" stroke-width="11.6" stroke-linecap="butt" stroke-linejoin="round" />
<path d="M460.4,170.3 H470.0 Q479.0,170.3 479.0,180.5 V224.0" fill="none" stroke="#c2c2c2" stroke-width="7.80" stroke-linecap="butt" stroke-linejoin="round" />
<path d="M446.5,222.5 Q446.5,224.6 448.6,224.6 H455.0 Q457.1,224.6 457.1,222.5" fill="#c2c2c2" stroke="#141414" stroke-width="1.7"/>
<path d="M473.7,222.5 Q473.7,224.6 475.8,224.6 H482.2 Q484.3,224.6 484.3,222.5" fill="#c2c2c2" stroke="#141414" stroke-width="1.7"/>
</g>
<linearGradient id="gg2" gradientUnits="userSpaceOnUse" x1="0" y1="1548.8" x2="0" y2="1465.8"><stop offset="0" stop-color="#fdfdfd" stop-opacity="0.28"/><stop offset="0.5" stop-color="#fdfdfd" stop-opacity="0.38"/><stop offset="0.75" stop-color="#fdfdfd" stop-opacity="0.72"/><stop offset="1" stop-color="#fdfdfd" stop-opacity="1"/></linearGradient>
<mask id="gm2" maskUnits="userSpaceOnUse" x="277.3" y="1432.8" width="80" height="125">
<g transform="translate(-152.7,1322.8)">
<path d="M471.8,131 L477.8,173" fill="none" stroke="#fff" stroke-width="12.6" stroke-linecap="butt" stroke-linejoin="round" />
<path d="M451.8,224.0 V180.5 Q451.8,170.3 460.8,170.3 H464" fill="none" stroke="#fff" stroke-width="13.0" stroke-linecap="butt" stroke-linejoin="round" />
<path d="M458.6,131 L454.5,170 Q453.5,181.5 464,181.5 Q474,181.5 479,171" fill="none" stroke="#fff" stroke-width="12.6" stroke-linecap="butt" stroke-linejoin="round" />
<path d="M460.4,170.3 H470.0 Q479.0,170.3 479.0,180.5 V224.0" fill="none" stroke="#fff" stroke-width="13.0" stroke-linecap="butt" stroke-linejoin="round" />
<path d="M446.5,222.5 Q446.5,224.6 448.6,224.6 H455.0 Q457.1,224.6 457.1,222.5" fill="#fff" stroke="#fff" stroke-width="1.7"/>
<path d="M473.7,222.5 Q473.7,224.6 475.8,224.6 H482.2 Q484.3,224.6 484.3,222.5" fill="#fff" stroke="#fff" stroke-width="1.7"/>
</g>
<rect x="287.3" y="1446.8" width="56" height="14" fill="#fff"/>
</mask>
<rect x="277.3" y="1432.8" width="80" height="125" fill="url(#gg2)" mask="url(#gm2)"/>
<line x1="1007.2" y1="612.5" x2="1007.2" y2="785" stroke="#222" stroke-width="1.4" />
<circle cx="1007.2" cy="906" r="36.6" fill="#fdfdfd" stroke="#0a0a0a" stroke-width="8"/>
<rect x="1004.0" y="845" width="6.4" height="21.5" fill="#0a0a0a"/>
<rect x="1004.0" y="945.5" width="6.4" height="21" fill="#0a0a0a"/>
<polygon points="1007.2,792.5 1023.4000000000001,846.8 991.0,846.8" fill="#0a0a0a"/>
<polygon points="1007.2,1018.6 1023.4000000000001,965.2 991.0,965.2" fill="#0a0a0a"/>
<polygon points="1026.2,887.5 977.5,918.4 999.4000000000001,915.3 993.7,931.8" fill="#0a0a0a"/>
<path d="M1151.8,41.5 A13,13 0 0 1 1166.8,54.5 L1166.8,106" fill="none" stroke="#141414" stroke-width="8.8" stroke-linecap="butt" stroke-linejoin="round" />
<path d="M1151.8,41.5 A13,13 0 0 1 1166.8,54.5 L1166.8,106" fill="none" stroke="#808080" stroke-width="5.00" stroke-linecap="butt" stroke-linejoin="round" />
<path d="M1123.2,150.6 L1141,52.2 A13,13 0 0 1 1153.8,41.5" fill="none" stroke="#141414" stroke-width="8.8" stroke-linecap="butt" stroke-linejoin="round" />
<path d="M1123.2,150.6 L1141,52.2 A13,13 0 0 1 1153.8,41.5" fill="none" stroke="#e6e6e6" stroke-width="5.00" stroke-linecap="butt" stroke-linejoin="round" />
<path d="M1115.8,146.2 L1133.1,50.8 A21,21 0 0 1 1174.8,54.5 L1174.8,106" fill="none" stroke="#141414" stroke-width="8.8" stroke-linecap="butt" stroke-linejoin="round" />
<path d="M1115.8,146.2 L1133.1,50.8 A21,21 0 0 1 1174.8,54.5 L1174.8,106" fill="none" stroke="#e6e6e6" stroke-width="5.00" stroke-linecap="butt" stroke-linejoin="round" />
<path d="M1125.2,139.5 L1132.6,98.5" fill="none" stroke="url(#hxd)" stroke-width="5.6" stroke-linecap="butt"/>
<path d="M1117.4,137 L1124.8,96" fill="none" stroke="url(#hxd)" stroke-width="5.6" stroke-linecap="butt"/>
<g transform="translate(703,0.5)">
<path d="M472.5,146 L478.5,174" fill="none" stroke="#141414" stroke-width="10.4" stroke-linecap="butt" stroke-linejoin="round" />
<path d="M472.5,146 L478.5,174" fill="none" stroke="#e6e6e6" stroke-width="6.60" stroke-linecap="butt" stroke-linejoin="round" />
<path d="M451.8,224.0 V180.5 Q451.8,170.3 460.8,170.3 H464" fill="none" stroke="#141414" stroke-width="11.6" stroke-linecap="butt" stroke-linejoin="round" />
<path d="M451.8,224.0 V180.5 Q451.8,170.3 460.8,170.3 H464" fill="none" stroke="#c2c2c2" stroke-width="7.80" stroke-linecap="butt" stroke-linejoin="round" />
<path d="M461.5,146 L456.5,170 Q455.5,181.5 465,181.5 Q474,181.5 479,171" fill="none" stroke="#141414" stroke-width="11.2" stroke-linecap="butt" stroke-linejoin="round" />
<path d="M461.5,146 L456.5,170 Q455.5,181.5 465,181.5 Q474,181.5 479,171" fill="none" stroke="#e6e6e6" stroke-width="7.40" stroke-linecap="butt" stroke-linejoin="round" />
<path d="M462.4,170.3 H470.0 Q479.0,170.3 479.0,180.5 V224.0" fill="none" stroke="#141414" stroke-width="11.6" stroke-linecap="butt" stroke-linejoin="round" />
<path d="M462.4,170.3 H470.0 Q479.0,170.3 479.0,180.5 V224.0" fill="none" stroke="#c2c2c2" stroke-width="7.80" stroke-linecap="butt" stroke-linejoin="round" />
<path d="M446.5,222.5 Q446.5,224.6 448.6,224.6 H455.0 Q457.1,224.6 457.1,222.5" fill="#c2c2c2" stroke="#141414" stroke-width="1.7"/>
<path d="M473.7,222.5 Q473.7,224.6 475.8,224.6 H482.2 Q484.3,224.6 484.3,222.5" fill="#c2c2c2" stroke="#141414" stroke-width="1.7"/>
</g>
<g transform="translate(1141.6,86.8) scale(0.04050)" stroke="#141414" stroke-width="46.9" stroke-linejoin="round">
<path d="M1040,600 C1135,680 1135,850 1100,930 L900,1045 L830,810 Z" fill="#e6e6e6"/>
<path d="M905,350 C1000,380 1065,470 1040,600 C1000,700 930,770 850,812 L720,620 L880,400 Z" fill="#808080"/>
<path d="M572,330 L905,350 L880,420 C850,500 790,570 712,602 L600,480 Z" fill="#e6e6e6"/>
<path d="M500,300 C390,420 290,560 290,740 C290,840 300,890 335,925 L650,1085 C640,1000 560,880 480,740 C420,640 390,560 400,490 Z" fill="#808080"/>
<path d="M500,300 C450,360 410,430 400,490 C400,600 440,700 520,820 C580,900 640,1000 650,1085 L900,1045 C890,950 850,850 780,740 C700,630 620,520 572,330 Z" fill="#e6e6e6"/>
<path d="M330,920 C280,1000 270,1150 350,1240 C500,1330 850,1340 1040,1250 C1130,1150 1140,1020 1100,920 C1000,1010 850,1080 700,1085 C560,1080 420,1010 330,920 Z" fill="#e6e6e6"/>
<path d="M350,1245 C330,1350 400,1480 520,1540 C640,1590 780,1590 900,1530 C1000,1470 1060,1350 1040,1255 C850,1340 500,1330 350,1245 Z" fill="#808080"/>
</g>
<path d="M1004.9,1047 L1004.9,1156" fill="none" stroke="#141414" stroke-width="7.6" stroke-linecap="butt" stroke-linejoin="round" />
<path d="M1004.9,1047 L1004.9,1156" fill="none" stroke="#808080" stroke-width="3.80" stroke-linecap="butt" stroke-linejoin="round" />
<path d="M1013.9,1043.2 L1013.9,1156" fill="none" stroke="#141414" stroke-width="12.2" stroke-linecap="butt" stroke-linejoin="round" />
<path d="M1013.9,1043.2 L1013.9,1156" fill="none" stroke="#e6e6e6" stroke-width="8.40" stroke-linecap="butt" stroke-linejoin="round" />
<path d="M1004.9,1058 L1004.9,1098" fill="none" stroke="url(#hxd)" stroke-width="4.2" stroke-linecap="butt"/>
<path d="M1012.2,1060 L1012.2,1096" fill="none" stroke="url(#hxd)" stroke-width="6.8" stroke-linecap="butt"/>
<g transform="translate(544.1,1051.0)">
<path d="M472.5,146 L478.5,174" fill="none" stroke="#141414" stroke-width="10.4" stroke-linecap="butt" stroke-linejoin="round" />
<path d="M472.5,146 L478.5,174" fill="none" stroke="#e6e6e6" stroke-width="6.60" stroke-linecap="butt" stroke-linejoin="round" />
<path d="M451.8,224.0 V180.5 Q451.8,170.3 460.8,170.3 H464" fill="none" stroke="#141414" stroke-width="11.6" stroke-linecap="butt" stroke-linejoin="round" />
<path d="M451.8,224.0 V180.5 Q451.8,170.3 460.8,170.3 H464" fill="none" stroke="#c2c2c2" stroke-width="7.80" stroke-linecap="butt" stroke-linejoin="round" />
<path d="M461.5,146 L456.5,170 Q455.5,181.5 465,181.5 Q474,181.5 479,171" fill="none" stroke="#141414" stroke-width="11.2" stroke-linecap="butt" stroke-linejoin="round" />
<path d="M461.5,146 L456.5,170 Q455.5,181.5 465,181.5 Q474,181.5 479,171" fill="none" stroke="#e6e6e6" stroke-width="7.40" stroke-linecap="butt" stroke-linejoin="round" />
<path d="M462.4,170.3 H470.0 Q479.0,170.3 479.0,180.5 V224.0" fill="none" stroke="#141414" stroke-width="11.6" stroke-linecap="butt" stroke-linejoin="round" />
<path d="M462.4,170.3 H470.0 Q479.0,170.3 479.0,180.5 V224.0" fill="none" stroke="#c2c2c2" stroke-width="7.80" stroke-linecap="butt" stroke-linejoin="round" />
<path d="M446.5,222.5 Q446.5,224.6 448.6,224.6 H455.0 Q457.1,224.6 457.1,222.5" fill="#c2c2c2" stroke="#141414" stroke-width="1.7"/>
<path d="M473.7,222.5 Q473.7,224.6 475.8,224.6 H482.2 Q484.3,224.6 484.3,222.5" fill="#c2c2c2" stroke="#141414" stroke-width="1.7"/>
</g>
<g transform="translate(982.6999999999999,1137.3) scale(0.04050)" stroke="#141414" stroke-width="46.9" stroke-linejoin="round">
<path d="M1040,600 C1135,680 1135,850 1100,930 L900,1045 L830,810 Z" fill="#e6e6e6"/>
<path d="M905,350 C1000,380 1065,470 1040,600 C1000,700 930,770 850,812 L720,620 L880,400 Z" fill="#808080"/>
<path d="M572,330 L905,350 L880,420 C850,500 790,570 712,602 L600,480 Z" fill="#e6e6e6"/>
<path d="M500,300 C390,420 290,560 290,740 C290,840 300,890 335,925 L650,1085 C640,1000 560,880 480,740 C420,640 390,560 400,490 Z" fill="#808080"/>
<path d="M500,300 C450,360 410,430 400,490 C400,600 440,700 520,820 C580,900 640,1000 650,1085 L900,1045 C890,950 850,850 780,740 C700,630 620,520 572,330 Z" fill="#e6e6e6"/>
<path d="M330,920 C280,1000 270,1150 350,1240 C500,1330 850,1340 1040,1250 C1130,1150 1140,1020 1100,920 C1000,1010 850,1080 700,1085 C560,1080 420,1010 330,920 Z" fill="#e6e6e6"/>
<path d="M350,1245 C330,1350 400,1480 520,1540 C640,1590 780,1590 900,1530 C1000,1470 1060,1350 1040,1255 C850,1340 500,1330 350,1245 Z" fill="#808080"/>
</g>
<g transform="translate(544.1,1322.8)">
<path d="M472.5,131 L478.5,174" fill="none" stroke="#141414" stroke-width="10.4" stroke-linecap="butt" stroke-linejoin="round" />
<path d="M472.5,131 L478.5,174" fill="none" stroke="#e6e6e6" stroke-width="6.60" stroke-linecap="butt" stroke-linejoin="round" />
<path d="M451.8,224.0 V180.5 Q451.8,170.3 460.8,170.3 H464" fill="none" stroke="#141414" stroke-width="11.6" stroke-linecap="butt" stroke-linejoin="round" />
<path d="M451.8,224.0 V180.5 Q451.8,170.3 460.8,170.3 H464" fill="none" stroke="#c2c2c2" stroke-width="7.80" stroke-linecap="butt" stroke-linejoin="round" />
<path d="M461.5,131 L456.5,170 Q455.5,181.5 465,181.5 Q474,181.5 479,171" fill="none" stroke="#141414" stroke-width="11.2" stroke-linecap="butt" stroke-linejoin="round" />
<path d="M461.5,131 L456.5,170 Q455.5,181.5 465,181.5 Q474,181.5 479,171" fill="none" stroke="#e6e6e6" stroke-width="7.40" stroke-linecap="butt" stroke-linejoin="round" />
<path d="M462.4,170.3 H470.0 Q479.0,170.3 479.0,180.5 V224.0" fill="none" stroke="#141414" stroke-width="11.6" stroke-linecap="butt" stroke-linejoin="round" />
<path d="M462.4,170.3 H470.0 Q479.0,170.3 479.0,180.5 V224.0" fill="none" stroke="#c2c2c2" stroke-width="7.80" stroke-linecap="butt" stroke-linejoin="round" />
<path d="M446.5,222.5 Q446.5,224.6 448.6,224.6 H455.0 Q457.1,224.6 457.1,222.5" fill="#c2c2c2" stroke="#141414" stroke-width="1.7"/>
<path d="M473.7,222.5 Q473.7,224.6 475.8,224.6 H482.2 Q484.3,224.6 484.3,222.5" fill="#c2c2c2" stroke="#141414" stroke-width="1.7"/>
</g>
<linearGradient id="gg3" gradientUnits="userSpaceOnUse" x1="0" y1="1548.8" x2="0" y2="1465.8"><stop offset="0" stop-color="#fdfdfd" stop-opacity="0.28"/><stop offset="0.5" stop-color="#fdfdfd" stop-opacity="0.38"/><stop offset="0.75" stop-color="#fdfdfd" stop-opacity="0.72"/><stop offset="1" stop-color="#fdfdfd" stop-opacity="1"/></linearGradient>
<mask id="gm3" maskUnits="userSpaceOnUse" x="974.1" y="1432.8" width="80" height="125">
<g transform="translate(544.1,1322.8)">
<path d="M472.5,131 L478.5,174" fill="none" stroke="#fff" stroke-width="11.8" stroke-linecap="butt" stroke-linejoin="round" />
<path d="M451.8,224.0 V180.5 Q451.8,170.3 460.8,170.3 H464" fill="none" stroke="#fff" stroke-width="13.0" stroke-linecap="butt" stroke-linejoin="round" />
<path d="M461.5,131 L456.5,170 Q455.5,181.5 465,181.5 Q474,181.5 479,171" fill="none" stroke="#fff" stroke-width="12.6" stroke-linecap="butt" stroke-linejoin="round" />
<path d="M462.4,170.3 H470.0 Q479.0,170.3 479.0,180.5 V224.0" fill="none" stroke="#fff" stroke-width="13.0" stroke-linecap="butt" stroke-linejoin="round" />
<path d="M446.5,222.5 Q446.5,224.6 448.6,224.6 H455.0 Q457.1,224.6 457.1,222.5" fill="#fff" stroke="#fff" stroke-width="1.7"/>
<path d="M473.7,222.5 Q473.7,224.6 475.8,224.6 H482.2 Q484.3,224.6 484.3,222.5" fill="#fff" stroke="#fff" stroke-width="1.7"/>
</g>
<rect x="984.1" y="1446.8" width="56" height="14" fill="#fff"/>
</mask>
<rect x="974.1" y="1432.8" width="80" height="125" fill="url(#gg3)" mask="url(#gm3)"/>
<path d="M800.5,728 L779.8,770.4" fill="none" stroke="#141414" stroke-width="9.6" stroke-linecap="round" stroke-linejoin="round" />
<path d="M800.5,728 L779.8,770.4" fill="none" stroke="#808080" stroke-width="5.80" stroke-linecap="round" stroke-linejoin="round" />
<path d="M790.5,726 L769.4,769.4" fill="none" stroke="#141414" stroke-width="9.6" stroke-linecap="round" stroke-linejoin="round" />
<path d="M790.5,726 L769.4,769.4" fill="none" stroke="#e6e6e6" stroke-width="5.80" stroke-linecap="round" stroke-linejoin="round" />
<path d="M798.5,732 L787,755.5" fill="none" stroke="url(#hx30)" stroke-width="6.4" stroke-linecap="butt"/>
<path d="M788.5,730 L777,753.5" fill="none" stroke="url(#hx30)" stroke-width="6.4" stroke-linecap="butt"/>
<g transform="translate(694.9,1.2)" stroke="#141414" stroke-width="2" stroke-linejoin="round">
<polygon points="72.3,632.1 77.5,647 50.2,700.6 43.3,684.6" fill="#c6c6c6"/>
<polygon points="72.3,632.1 191.3,650.1 196,665 77.5,647" fill="#fbfbfb"/>
<polygon points="77.5,647 196,665 197.5,672 81.7,657.9 53.5,702.6 50.2,700.6" fill="#5c5c5c"/>
</g>
<path d="M882.1,585.2 L841.5,666.8" fill="none" stroke="#141414" stroke-width="9.6" stroke-linecap="round" stroke-linejoin="round" />
<path d="M882.1,585.2 L841.5,666.8" fill="none" stroke="#808080" stroke-width="5.80" stroke-linecap="round" stroke-linejoin="round" />
<path d="M872.9,582.2 L832.3,664.5" fill="none" stroke="#141414" stroke-width="9.6" stroke-linecap="round" stroke-linejoin="round" />
<path d="M872.9,582.2 L832.3,664.5" fill="none" stroke="#e6e6e6" stroke-width="5.80" stroke-linecap="round" stroke-linejoin="round" />
<path d="M875.5,597 L859,629" fill="none" stroke="url(#hx30)" stroke-width="5.8" stroke-linecap="butt"/>
<path d="M866.5,594 L850.5,626.5" fill="none" stroke="url(#hx30)" stroke-width="5.8" stroke-linecap="butt"/>
<g transform="translate(694.9,1.2)" stroke="#141414" stroke-width="2" stroke-linejoin="round">
<polygon points="81.7,657.9 87.9,673.6 60.5,720.6 53.5,702.6" fill="#c6c6c6"/>
<polygon points="87.9,673.6 206.2,690 176.5,736 172,739.6 146,735.6 60.5,720.6" fill="#727272"/>
<polygon points="81.7,657.9 200.7,674.4 206.2,690 87.9,673.6" fill="#fbfbfb"/>
<polygon points="176.5,736 172,739.6 166,738.6 170,731" fill="#727272" stroke="none"/>
<path d="M66,716.5 Q73,706.5 90,705.5 L93,712 Q84,722.5 71.5,722.5 Q65.5,721 66,716.5 Z" fill="#f3f3f3" stroke-width="1.7"/>
<path d="M101,699.5 Q117,694.5 128.5,698 Q133,701.5 129,707.5 Q121,713.5 108,711.5 Z" fill="#f3f3f3" stroke-width="1.7"/>
<path d="M91.5,703 Q95,696 100.5,698 L106.8,713 Q105.5,719.5 99,718 Z" fill="#f3f3f3" stroke-width="1.7"/>
<path d="M173,708.5 Q180,693.5 188,693 Q193.5,696 190,705 Q183,715 176.5,716 Z" fill="#f3f3f3" stroke-width="1.7"/>
<path d="M168.5,722 Q165,737 158,746.5 Q152.5,748.5 150,743 Q153,729.5 162.5,719.5 Z" fill="#f3f3f3" stroke-width="1.7"/>
<path d="M161.5,712 Q165,706.5 169.5,709 L176.5,722.5 Q175,728.5 169.5,727.5 Z" fill="#f3f3f3" stroke-width="1.7"/>
</g>
<path transform="translate(695.5,0)" d="M215,566.7 L291,580.6 Q303.5,584 301.3,596.5 Q298.5,609.5 287.5,608.8 L210,594.6 Z" fill="#fbfbfb" stroke="#141414" stroke-width="2" stroke-linejoin="round"/>
<path d="M944.5,577.4 L968.6,531.5" fill="none" stroke="#141414" stroke-width="8.8" stroke-linecap="butt" stroke-linejoin="round" />
<path d="M944.5,577.4 L968.6,531.5" fill="none" stroke="#808080" stroke-width="5.00" stroke-linecap="butt" stroke-linejoin="round" />
<path d="M936.3,572.9 L960.3,527" fill="none" stroke="#141414" stroke-width="8.8" stroke-linecap="butt" stroke-linejoin="round" />
<path d="M936.3,572.9 L960.3,527" fill="none" stroke="#e6e6e6" stroke-width="5.00" stroke-linecap="butt" stroke-linejoin="round" />
<path d="M951.5,564 L964.5,539" fill="none" stroke="url(#hx30)" stroke-width="5.8" stroke-linecap="butt"/>
<path d="M943.3,559.5 L956.3,534.5" fill="none" stroke="url(#hx30)" stroke-width="5.8" stroke-linecap="butt"/>
<path d="M977.5,519.8 L989.5,497" fill="none" stroke="#141414" stroke-width="8.8" stroke-linecap="butt" stroke-linejoin="round" />
<path d="M977.5,519.8 L989.5,497" fill="none" stroke="#808080" stroke-width="5.00" stroke-linecap="butt" stroke-linejoin="round" />
<path d="M968.8,515.6 L980.8,492.8" fill="none" stroke="#141414" stroke-width="8.8" stroke-linecap="butt" stroke-linejoin="round" />
<path d="M968.8,515.6 L980.8,492.8" fill="none" stroke="#e6e6e6" stroke-width="5.00" stroke-linecap="butt" stroke-linejoin="round" />
<ellipse cx="940" cy="587.9" rx="10.2" ry="22.4" transform="rotate(8 940 587.9)" fill="#808080" stroke="#141414" stroke-width="2"/>
<path d="M931,593.9 Q934,606.4 943,605.4" fill="none" stroke="url(#hxd)" stroke-width="9"/>
<ellipse cx="927.5" cy="585.6" rx="10.2" ry="22.4" transform="rotate(8 927.5 585.6)" fill="#e6e6e6" stroke="#141414" stroke-width="2"/>
<path d="M918.5,591.6 Q921.5,604.1 930.5,603.1" fill="none" stroke="url(#hxd)" stroke-width="9"/>
<ellipse cx="921.2" cy="584.5" rx="10.2" ry="22.4" transform="rotate(8 921.2 584.5)" fill="#808080" stroke="#141414" stroke-width="2"/>
<path d="M912.2,590.5 Q915.2,603.0 924.2,602.0" fill="none" stroke="url(#hxd)" stroke-width="9"/>
<ellipse cx="910.3" cy="582.5" rx="10.2" ry="22.4" transform="rotate(8 910.3 582.5)" fill="#e6e6e6" stroke="#141414" stroke-width="2"/>
<path d="M901.3,588.5 Q904.3,601.0 913.3,600.0" fill="none" stroke="url(#hxd)" stroke-width="9"/>
<ellipse cx="904" cy="581.3" rx="10.2" ry="22.4" transform="rotate(8 904 581.3)" fill="#808080" stroke="#141414" stroke-width="2"/>
<path d="M895,587.3 Q898,599.8 907,598.8" fill="none" stroke="url(#hxd)" stroke-width="9"/>
<ellipse cx="890.5" cy="578.8" rx="12.2" ry="24.2" transform="rotate(8 890.5 578.8)" fill="#e6e6e6" stroke="#141414" stroke-width="2"/>
<path d="M881.5,584.8 Q884.5,597.3 893.5,596.3" fill="none" stroke="url(#hxd)" stroke-width="9"/>
<g transform="translate(695.5,0)" stroke="#141414" stroke-width="2" stroke-linejoin="round">
<path d="M134.4,552 L189.5,562.1 A10.5,14.4 10 0 1 187.0,590.7 L132.7,580.2 Z" fill="#fbfbfb"/>
<ellipse cx="130.3" cy="565.9" rx="10.8" ry="14.6" transform="rotate(10 130.3 565.9)" fill="#bdbdbd"/>
</g>
<g transform="translate(688.7,0)">
<path d="M327.2,421 L327.2,481 C327.2,494 320,500.5 309,500 C293,499 283,487 279,474.5 L276.6,466.5 L290.7,420.5 C294,409.5 303,407.6 312.5,407.6 C322,407.6 327.2,413 327.2,421 Z" fill="none" stroke="#141414" stroke-width="11.7" stroke-linecap="butt" stroke-linejoin="round" />
<path d="M327.2,421 L327.2,481 C327.2,494 320,500.5 309,500 C293,499 283,487 279,474.5 L276.6,466.5 L290.7,420.5 C294,409.5 303,407.6 312.5,407.6 C322,407.6 327.2,413 327.2,421 Z" fill="none" stroke="#f7f7f7" stroke-width="8.10" stroke-linecap="butt" stroke-linejoin="round" />
<path d="M285.6,418.2 L296.6,421.6" stroke="#222" stroke-width="1.3" fill="none"/>
<path d="M271.6,461.5 L283,465" stroke="#222" stroke-width="1.3" fill="none"/>
<path d="M274,455.5 Q268.5,462.5 270.8,471.5" stroke="#1a1a1a" stroke-width="1.8" fill="none"/>
<rect x="286.6" y="424" width="4" height="4" fill="#d8d8d8" stroke="#333" stroke-width="0.9" transform="rotate(17 288.6 426)"/>
<circle cx="279.2" cy="469.5" r="2" fill="#d0d0d0" stroke="#333" stroke-width="0.9"/>
<circle cx="312.4" cy="420.4" r="7" fill="#b2b2b2" stroke="#222" stroke-width="1.4"/>
</g>
<path d="M990,492 C990.5,483.5 995.5,479.8 1000,479.8 C1005,479.8 1007.2,484.5 1007.7,493 L1015,602 A18.6,18.6 0 0 0 1052.2,600.5 L1066.2,476" fill="none" stroke="#141414" stroke-width="9.4" stroke-linecap="butt" stroke-linejoin="round" />
<path d="M990,492 C990.5,483.5 995.5,479.8 1000,479.8 C1005,479.8 1007.2,484.5 1007.7,493 L1015,602 A18.6,18.6 0 0 0 1052.2,600.5 L1066.2,476" fill="none" stroke="#808080" stroke-width="5.60" stroke-linecap="butt" stroke-linejoin="round" />
<path d="M981,489.5 C981.5,480.5 986.5,476.6 991,476.6 C996,476.6 998.2,481.5 998.8,491 L1005,596.5 A18.9,18.9 0 0 0 1042.8,597 L1057.8,470.5" fill="none" stroke="#141414" stroke-width="9.4" stroke-linecap="butt" stroke-linejoin="round" />
<path d="M981,489.5 C981.5,480.5 986.5,476.6 991,476.6 C996,476.6 998.2,481.5 998.8,491 L1005,596.5 A18.9,18.9 0 0 0 1042.8,597 L1057.8,470.5" fill="none" stroke="#e6e6e6" stroke-width="5.60" stroke-linecap="butt" stroke-linejoin="round" />
<path d="M1009.5,537 L1013,583" fill="none" stroke="url(#hx0)" stroke-width="5.6" stroke-linecap="butt"/>
<path d="M1000.2,530 L1003.2,575" fill="none" stroke="url(#hx0)" stroke-width="5.6" stroke-linecap="butt"/>
<path d="M1061.5,521 L1057,561" fill="none" stroke="url(#hx0)" stroke-width="5.6" stroke-linecap="butt"/>
<path d="M1052.6,516 L1048.2,554" fill="none" stroke="url(#hx0)" stroke-width="5.6" stroke-linecap="butt"/>
<clipPath id="cb4"><polygon points="953.7,465 988.7,478 997.7,492 997.7,510 958.7,510"/></clipPath>
<g clip-path="url(#cb4)" ><g transform="translate(688.7,0)">
<path d="M276.6,466.5 L279,474.5 C283,487 293,499 309,500 C320,500.5 327.2,494 327.2,481" fill="none" stroke="#141414" stroke-width="11.7" stroke-linecap="butt" stroke-linejoin="round" />
<path d="M276.6,466.5 L279,474.5 C283,487 293,499 309,500 C320,500.5 327.2,494 327.2,481" fill="none" stroke="#f7f7f7" stroke-width="8.10" stroke-linecap="butt" stroke-linejoin="round" />
</g></g>
<line x1="1007.3" y1="622" x2="1007.3" y2="785" stroke="#222" stroke-width="1.4" />
<line x1="873.7" y1="423" x2="954" y2="465.8" stroke="#222" stroke-width="1.2" />
<line x1="819" y1="521.3" x2="878.8" y2="552.9" stroke="#222" stroke-width="1.2" />
<polygon points="878.6,432.3 875.0,456.1 869.2,451.6 862.1,449.8" fill="#0a0a0a"/>
<line x1="867.3" y1="455.5" x2="863.5999999999999" y2="463.2" stroke="#222" stroke-width="1.3" />
<polygon points="830.5,522.4 836.0,498.9 841.5,503.9 848.4,506.3" fill="#0a0a0a"/>
<line x1="848.6999999999999" y1="492" x2="842.3" y2="502.8" stroke="#222" stroke-width="1.3" />
<line x1="920.8" y1="615.5" x2="908.8" y2="638.8" stroke="#222" stroke-width="1.3" />
<path transform="translate(695.3,0)" d="M221.5,630.5 Q257,668 309,673" fill="none" stroke="#222" stroke-width="1.3"/>
<polygon points="914.6,628.0 936.6,641.9 930.1,645.6 925.6,651.6" fill="#0a0a0a"/>
<polygon points="1006.7,673.2 979.3,678.6 981.3,671.4 980.3,664.0" fill="#0a0a0a"/>
</g>
</svg>
</body></html>
